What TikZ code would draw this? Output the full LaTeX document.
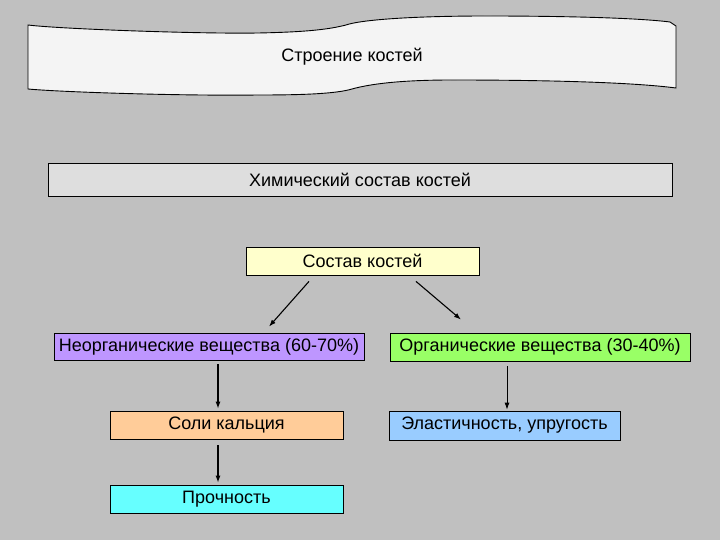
\documentclass[tikz,border=0pt]{standalone}
\usepackage{fontspec}
\setmainfont{Liberation Sans}
\usetikzlibrary{arrows.meta,calc}
\definecolor{bg}{RGB}{192,192,192}
\definecolor{banner}{RGB}{244,244,244}
\definecolor{chem}{RGB}{222,222,222}
\definecolor{yel}{RGB}{255,255,204}
\definecolor{purp}{RGB}{190,150,255}
\definecolor{grn}{RGB}{153,255,102}
\definecolor{org}{RGB}{255,204,153}
\definecolor{cyn}{RGB}{102,255,255}
\definecolor{blu}{RGB}{153,204,255}
\tikzset{
  txt/.style={font=\fontsize{18}{21}\selectfont, text=black},
  box/.style={txt, draw=black, line width=0.8pt, inner sep=0pt},
  arr/.style={-{Latex[length=7pt,width=5pt]}, line width=1.1pt},
  thinarr/.style={-{Latex[length=7pt,width=5pt]}, line width=0.8pt}
}
\begin{document}
\begin{tikzpicture}[x=1pt,y=-1pt]
\fill[bg] (0,0) rectangle (720,540);
\useasboundingbox (0,0) rectangle (720,540);
% banner
\draw[fill=banner, line width=0.9pt]
  (28,25) .. controls (60,29) and (200,34) .. (258,33)
  .. controls (310,32) and (330,29) .. (346,25)
  .. controls (360,20) and (410,16) .. (487,16)
  .. controls (540,16) and (630,17) .. (670,22)
  -- (676,26) -- (676,88)
  .. controls (630,82) and (540,80) .. (452,80)
  .. controls (400,80) and (370,84) .. (352,89)
  .. controls (335,94) and (300,95) .. (258,95)
  .. controls (180,96) and (60,92) .. (28,89) -- cycle;
\node[txt] (title) at (352,57) {Строение костей};
% boxes
\node[box, fill=chem, minimum width=624pt, minimum height=33pt] (chem) at (360,179.5) {Химический состав костей};
\node[box, fill=yel, minimum width=233pt, minimum height=28pt] (comp) at (362.5,261) {Состав костей};
\node[box, fill=purp, minimum width=310pt, minimum height=27pt] (inorg) at (209,346.5) {Неорганические вещества (60-70\%)};
\node[box, fill=grn, minimum width=300pt, minimum height=28pt] (org) at (540,347) {Органические вещества (30-40\%)};
\node[box, fill=org, minimum width=233pt, minimum height=28pt] (salt) at (226.5,425) {Соли кальция};
\node[box, fill=cyn, minimum width=233pt, minimum height=28pt] (str) at (226.5,499) {Прочность};
\node[box, fill=blu, minimum width=231pt, minimum height=29pt] (elast) at (504.5,425.5) {Эластичность, упругость};
% arrows
\draw[arr] ([xshift=-53.5pt,yshift=-6pt]comp.south) -- ([xshift=60pt,yshift=6pt]inorg.north);
\draw[arr] ([xshift=53.5pt,yshift=-6pt]comp.south) -- ([xshift=-79pt,yshift=13pt]org.north);
\draw[arr] ([xshift=9pt,yshift=-4pt]inorg.south) -- ([xshift=-8.5pt,yshift=2pt]salt.north);
\draw[arr] ([xshift=-8.5pt,yshift=-6pt]salt.south) -- ([xshift=-8.5pt,yshift=2pt]str.north);
\draw[thinarr] ([xshift=-33pt,yshift=-5pt]org.south) -- ([xshift=2.5pt,yshift=1pt]elast.north);
\end{tikzpicture}
\end{document}
